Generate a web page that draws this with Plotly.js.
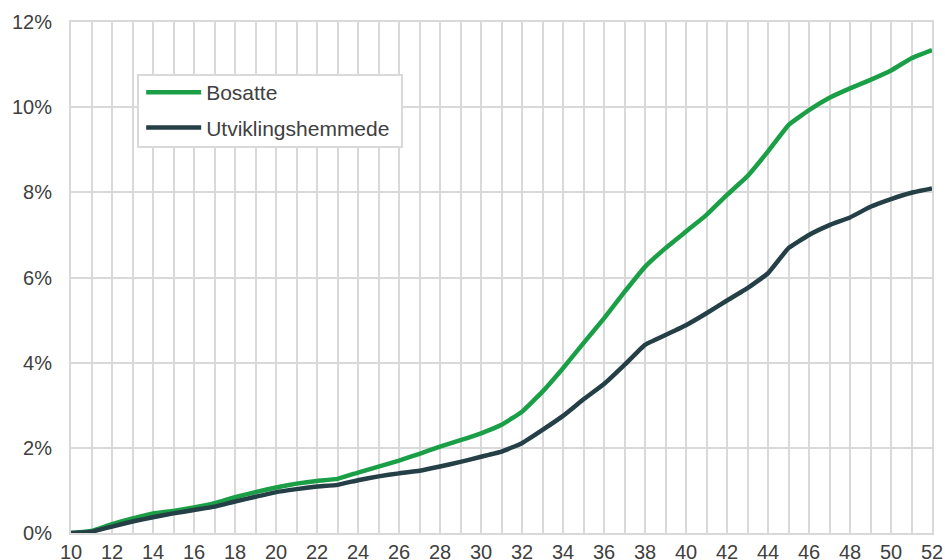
<!DOCTYPE html>
<html>
<head>
<meta charset="utf-8">
<script src="https://cdn.plot.ly/plotly-3.0.1.min.js"></script>
<style>html,body{margin:0;padding:0;background:#fff;}#chart{width:945px;height:560px;}</style>
</head>
<body>
<div id="chart"></div>
<script>
var weeks = [10,11,12,13,14,15,16,17,18,19,20,21,22,23,24,25,26,27,28,29,30,31,32,33,34,35,36,37,38,39,40,41,42,43,44,45,46,47,48,49,50,51,52];
var bosatte = [0,0.05,0.21,0.34,0.46,0.52,0.6,0.7,0.84,0.96,1.07,1.16,1.22,1.27,1.42,1.56,1.7,1.86,2.03,2.18,2.34,2.54,2.85,3.32,3.87,4.46,5.04,5.66,6.25,6.69,7.08,7.47,7.94,8.38,8.96,9.58,9.93,10.22,10.44,10.64,10.86,11.15,11.34];
var utvikling = [0,0.03,0.15,0.27,0.37,0.46,0.54,0.62,0.74,0.85,0.96,1.03,1.09,1.13,1.24,1.33,1.4,1.46,1.56,1.67,1.79,1.91,2.11,2.42,2.75,3.14,3.5,3.95,4.42,4.65,4.88,5.16,5.46,5.75,6.1,6.69,7.0,7.23,7.41,7.66,7.84,7.99,8.09];
var seriesNames = ["Bosatte", "Utviklingshemmede"];
var xTickLabels = weeks.map(function(w){ return (w % 2 === 0) ? String(w) : ""; });

var font = {family: "Liberation Sans, Arial, sans-serif", size: 20, color: "#404040"};
var legendFont = {family: "Liberation Sans, Arial, sans-serif", size: 21, color: "#404040"};
var grid = "#d9d9d9";

var traces = [
  {x: weeks, y: bosatte, name: seriesNames[0], type: "scatter", mode: "lines",
   line: {color: "#1a9f47", width: 4.5, shape: "spline", smoothing: 0.3}, legendgroup: "a"},
  {x: weeks, y: utvikling, name: seriesNames[1], type: "scatter", mode: "lines",
   line: {color: "#243f46", width: 4.5, shape: "spline", smoothing: 0.3}, legendgroup: "b"}
];

var layout = {
  width: 945, height: 560,
  margin: {l: 71, r: 13, t: 22, b: 27, pad: 0},
  paper_bgcolor: "#fff", plot_bgcolor: "#fff",
  font: font,
  showlegend: true,
  legend: {x: 0.0815, y: 0.902, xanchor: "left", yanchor: "top",
           bgcolor: "rgba(0,0,0,0)", borderwidth: 0, itemwidth: 55,
           font: legendFont, tracegroupgap: 5},
  shapes: [{type: "rect", xref: "paper", yref: "paper",
            x0: 0.0778, x1: 0.3844, y0: 0.7554, y1: 0.8963,
            line: {color: grid, width: 2}, fillcolor: "#fff", layer: "above"}],
  xaxis: {range: [10, 52], tickvals: weeks, ticktext: xTickLabels,
          showgrid: true, gridcolor: grid, gridwidth: 2,
          showline: true, mirror: true, linecolor: grid, linewidth: 2,
          zeroline: false, ticks: "", tickfont: font, fixedrange: true},
  yaxis: {range: [0, 12], dtick: 2, ticksuffix: "%",
          showgrid: true, gridcolor: grid, gridwidth: 2,
          showline: true, mirror: true, linecolor: grid, linewidth: 2,
          zeroline: false, ticks: "", tickfont: font, ticklabelstandoff: 13,
          fixedrange: true}
};

Plotly.newPlot("chart", traces, layout, {staticPlot: true, displayModeBar: false});
</script>
</body>
</html>
